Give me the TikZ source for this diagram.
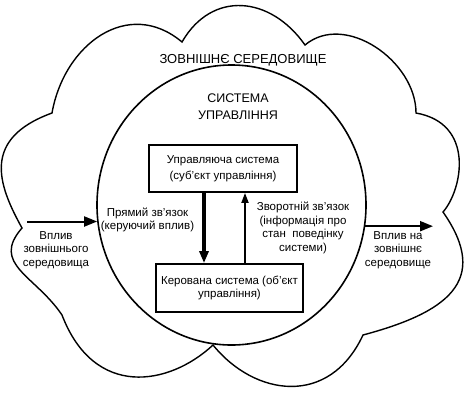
\documentclass[tikz,border=0pt]{standalone}
\usepackage{fontspec}
\setmainfont{Liberation Sans}
\usetikzlibrary{arrows.meta,shapes.geometric,calc}
\begin{document}
\begin{tikzpicture}[x=1bp,y=1bp,
  lbl/.style={font=\fontsize{11.5bp}{13.5bp}\selectfont, align=center, inner sep=0pt},
  boxnode/.style={draw, line width=1.8bp, inner sep=0pt, align=center, fill=white},
  cloudline/.style={line width=1.4bp},
  bigarrow/.style={line width=3.2bp, -{Triangle[length=12bp,width=9bp]}},
  thinarrow/.style={line width=1.8bp, -{Triangle[length=10bp,width=7bp]}},
  sidearrow/.style={line width=2bp, -{Triangle[length=13bp,width=10bp]}}]
\useasboundingbox (0,0) rectangle (464,-402);
\fill[white] (0,0) rectangle (464,-402);
% cloud cusps
\coordinate (c1) at (182,-42);
\coordinate (c2) at (305,-45);
\coordinate (c3) at (416,-113);
\coordinate (c4) at (443,-212);
\coordinate (c5) at (363,-335);
\coordinate (c6) at (213,-345);
\coordinate (c7) at (62,-315);
\coordinate (c8) at (22,-228);
\coordinate (c9) at (52,-113);
\draw[cloudline, fill=white]
  (c9) to[out=80,in=140,out distance=70bp,in distance=70bp] (c1)
       to[out=60,in=125,out distance=60bp,in distance=60bp] (c2)
       to[out=40,in=90,out distance=52bp,in distance=52bp] (c3)
       to[out=-10,in=49,out distance=60bp,in distance=30bp] (c4)
       to[out=-55,in=15,out distance=85bp,in distance=85bp] (c5)
       to[out=-115,in=-51,out distance=80bp,in distance=66bp] (c6)
       to[out=-137,in=-69,out distance=60bp,in distance=90bp] (c7)
       to[out=124,in=-131,out distance=48bp,in distance=48bp] (c8)
       to[out=119,in=200,out distance=50bp,in distance=75bp] (c9) -- cycle;
% system circle
\node[draw, ellipse, line width=1.6bp, minimum width=269bp, minimum height=280bp,
      inner sep=0pt, fill=white] (sys) at (231.5,-205) {};
\node[font=\fontsize{13bp}{15bp}\selectfont, inner sep=0pt] (env) at (243,-60)
  {ЗОВНІШНЄ СЕРЕДОВИЩЕ};
\node[font=\fontsize{12.5bp}{17bp}\selectfont, align=center, inner sep=0pt] (sysl)
  at (238,-107) {СИСТЕМА\\УПРАВЛІННЯ};
% boxes
\node[boxnode, minimum width=148bp, minimum height=47bp,
      font=\fontsize{11.5bp}{16bp}\selectfont] (top) at (223,-168.5)
  {Управляюча система\\(суб'єкт управління)};
\node[boxnode, minimum width=147bp, minimum height=48bp,
      font=\fontsize{11.5bp}{13bp}\selectfont] (bot) at (229.5,-288)
  {Керована система (об'єкт\\управління)};
% inner arrows
\coordinate (dx) at (204,0);
\coordinate (ux) at (245,0);
\draw[bigarrow] (top.south -| dx) -- (bot.north -| dx);
\draw[thinarrow] (bot.north -| ux) -- (top.south -| ux);
% side arrows
\coordinate (lin) at (27,0);
\coordinate (rout) at (433,0);
\draw[sidearrow] (sys.187.5 -| lin) -- (sys.187.5);
\draw[sidearrow] (sys.351) -- (sys.351 -| rout);
% labels
\node[lbl] (fwd) at (147.5,-220) {Прямий зв'язок\\(керуючий вплив)};
\node[lbl] (fb) at (303,-228) {Зворотній зв'язок\\(інформація про\\стан\ \ поведінку\\системи)};
\node[lbl] (inl) at (56,-250) {Вплив\\зовнішнього\\середовища};
\node[lbl] (outl) at (398,-250) {Вплив на\\зовнішнє\\середовище};
\end{tikzpicture}
\end{document}
